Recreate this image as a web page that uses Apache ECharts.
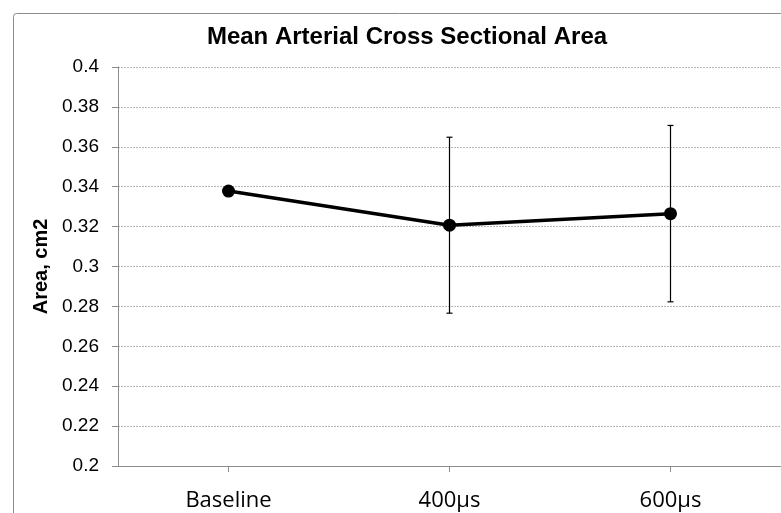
<!DOCTYPE html>
<html>
<head>
<meta charset="utf-8">
<script src="https://cdn.jsdelivr.net/npm/echarts@6/dist/echarts.min.js"></script>
<style>
html,body{margin:0;padding:0;background:#fff;}
#chart{width:781px;height:513px;}
</style>
</head>
<body>
<div id="chart"></div>
<script>
var categories = ['Baseline', '400\u00b5s', '600\u00b5s'];
var meanArea = [0.3378, 0.3207, 0.3265];
var errorArea = [0, 0.0441, 0.0442];
var yTicks = [0.2, 0.22, 0.24, 0.26, 0.28, 0.3, 0.32, 0.34, 0.36, 0.38, 0.4];

var errorData = categories.map(function (c, i) {
  return [i, meanArea[i] - errorArea[i], meanArea[i] + errorArea[i]];
});

var chart = echarts.init(document.getElementById('chart'), null, {renderer: 'canvas'});
chart.setOption({
  animation: false,
  backgroundColor: '#fff',
  graphic: [{
    type: 'rect',
    left: 11, top: 11,
    shape: {width: 820, height: 560, r: 3},
    style: {fill: 'none', stroke: '#8c8c8c', lineWidth: 1},
    z: -10
  }],
  title: {
    text: 'Mean Arterial Cross Sectional Area',
    left: 402, top: 20, textAlign: 'center',
    textStyle: {fontFamily: '"Liberation Sans", Arial, sans-serif', fontWeight: 'bold', fontSize: 24, color: '#000'}
  },
  grid: {left: 118, top: 67, right: 0, bottom: 47, containLabel: false},
  xAxis: {
    type: 'category',
    data: categories,
    boundaryGap: true,
    axisLine: {lineStyle: {color: '#8c8c8c', width: 1}},
    axisTick: {show: true, alignWithLabel: true, length: 6, lineStyle: {color: '#8c8c8c'}},
    axisLabel: {margin: 24, color: '#000', fontFamily: '"Open Sans", Lato, sans-serif', fontSize: 22},
    splitLine: {show: false}
  },
  yAxis: {
    type: 'value',
    min: yTicks[0], max: yTicks[yTicks.length - 1], interval: 0.02,
    name: 'Area, cm2',
    nameLocation: 'middle',
    nameGap: 65,
    nameTextStyle: {fontFamily: '"Liberation Sans", Arial, sans-serif', fontWeight: 'bold', fontSize: 20, color: '#000'},
    axisLine: {show: true, lineStyle: {color: '#8c8c8c', width: 1}},
    axisTick: {show: true, length: 6, inside: false, lineStyle: {color: '#8c8c8c'}},
    axisLabel: {margin: 19, color: '#000', fontFamily: '"Liberation Sans", Arial, sans-serif', fontSize: 19,
      formatter: function (v) { return String(+v.toFixed(2)); }},
    splitLine: {show: true, lineStyle: {color: '#b8b8b8', type: [2, 1], width: 1}}
  },
  series: [
    {
      type: 'line',
      data: meanArea,
      symbol: 'circle',
      symbolSize: 13,
      lineStyle: {color: '#000', width: 3.5},
      itemStyle: {color: '#000'},
      z: 3
    },
    {
      type: 'custom',
      data: errorData,
      z: 4,
      renderItem: function (params, api) {
        var x = api.value(0);
        var lo = api.coord([x, api.value(1)]);
        var hi = api.coord([x, api.value(2)]);
        if (Math.abs(hi[1] - lo[1]) < 0.5) return null;
        var hw = 3;
        var st = {stroke: '#000', lineWidth: 1.2};
        return {
          type: 'group',
          children: [
            {type: 'line', shape: {x1: hi[0], y1: hi[1], x2: lo[0], y2: lo[1]}, style: st},
            {type: 'line', shape: {x1: hi[0] - hw, y1: hi[1], x2: hi[0] + hw, y2: hi[1]}, style: st},
            {type: 'line', shape: {x1: lo[0] - hw, y1: lo[1], x2: lo[0] + hw, y2: lo[1]}, style: st}
          ]
        };
      }
    }
  ]
});
</script>
</body>
</html>
